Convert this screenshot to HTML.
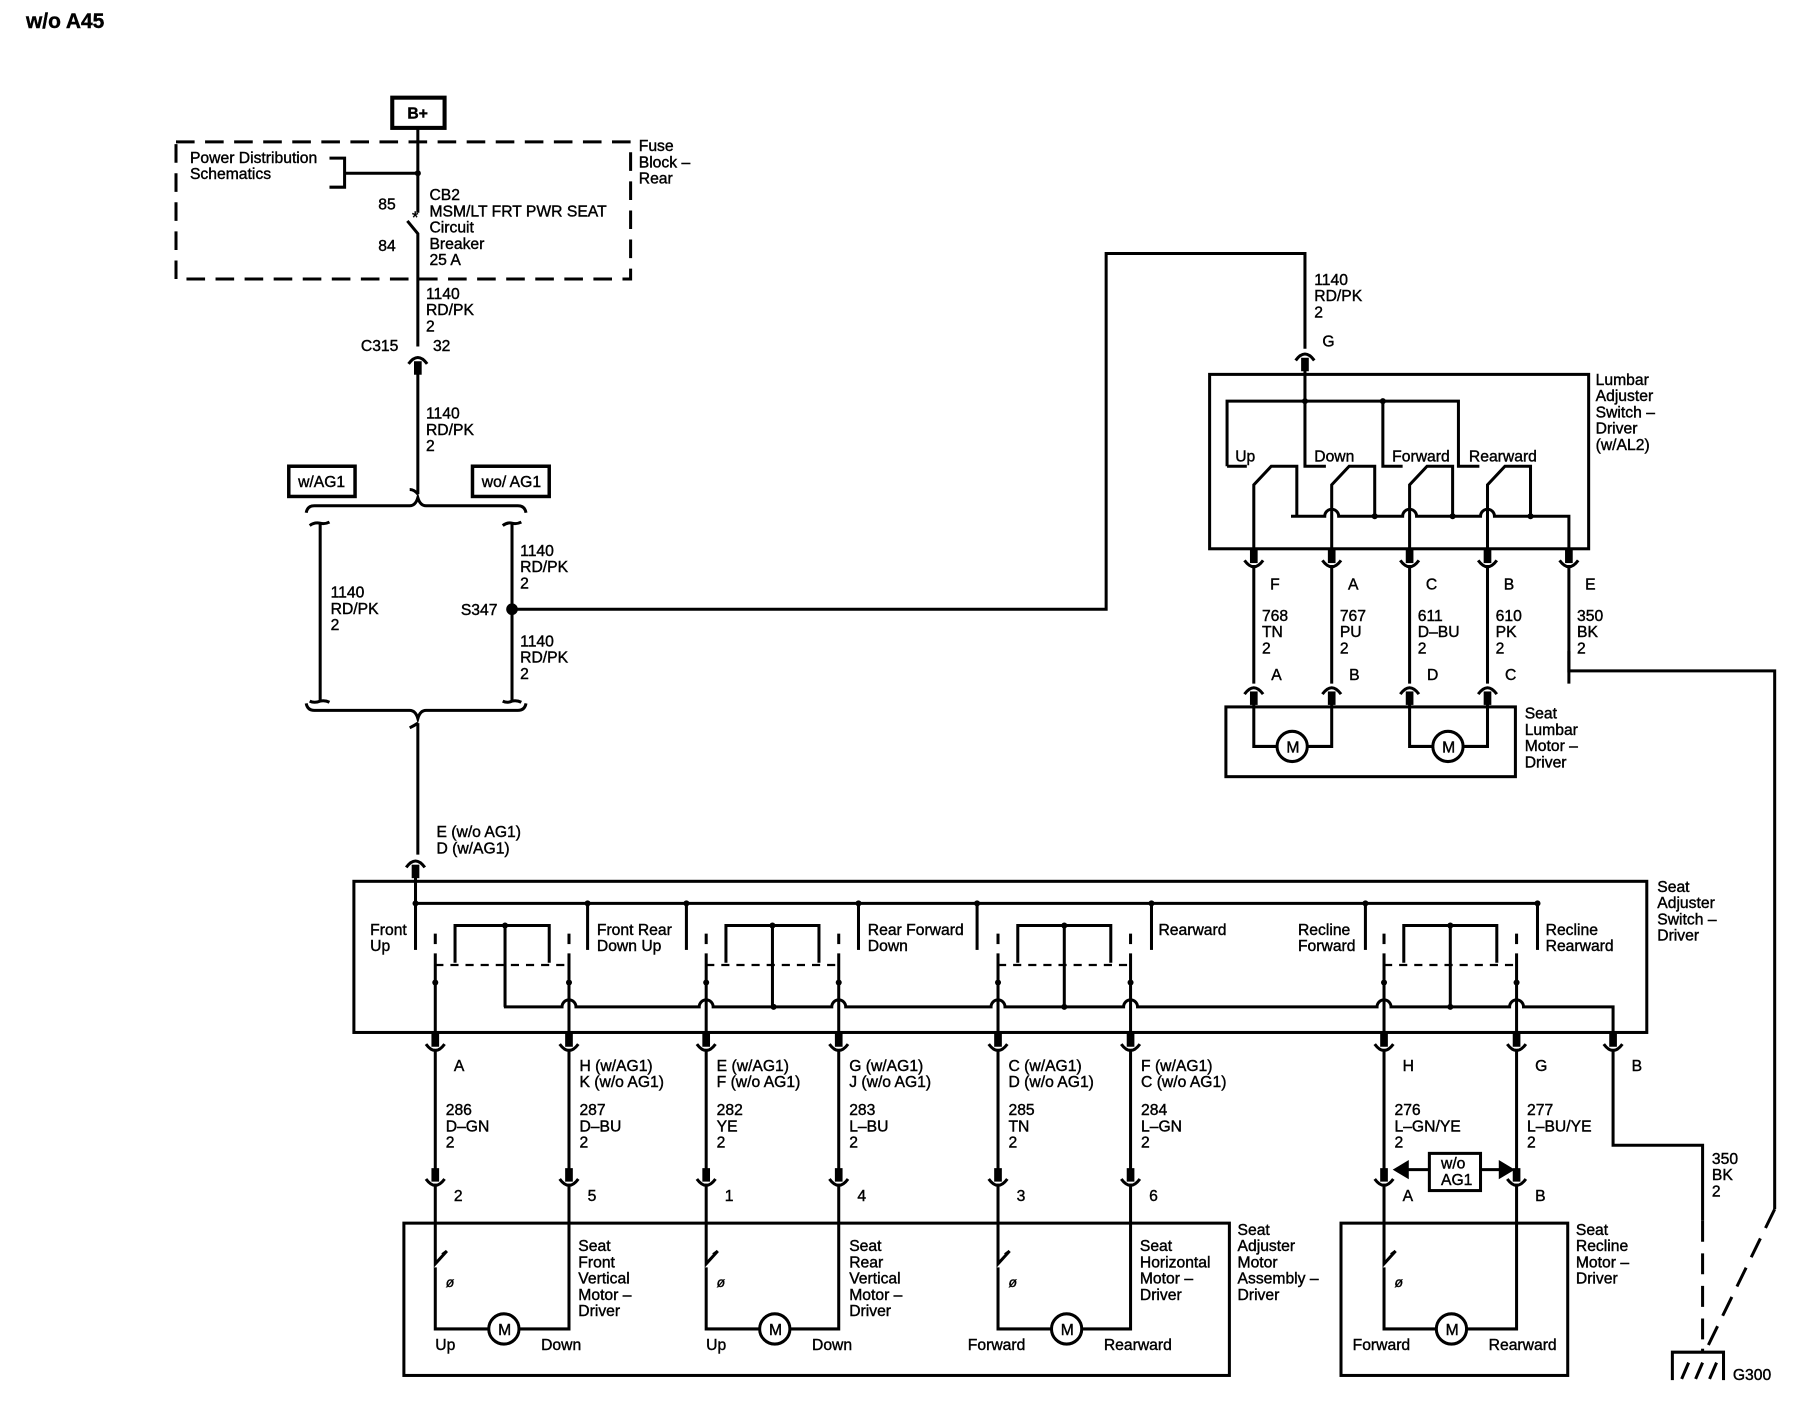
<!DOCTYPE html>
<html><head><meta charset="utf-8"><style>
html,body{margin:0;padding:0;background:#fff}
svg{display:block}
text{font-family:"Liberation Sans",Arial,sans-serif;font-size:13.5px;fill:#000;stroke:#000;stroke-width:0.35}
</style></head><body>
<svg id="s" width="1810" height="1408" viewBox="0 0 1556 1211" xmlns="http://www.w3.org/2000/svg">
<g id="g" fill="none" stroke="#000" stroke-width="2.6" stroke-linejoin="miter"></g>
<g id="t"></g>
</svg>
<script>
const g=document.getElementById('g'),T=document.getElementById('t');
const NS='http://www.w3.org/2000/svg';
function el(tag,a,par){const e=document.createElementNS(NS,tag);for(const k in a)e.setAttribute(k,a[k]);(par||g).appendChild(e);return e;}
function P(d,extra){return el('path',Object.assign({d:d},extra||{}));}
function L(x1,y1,x2,y2,w){return el('line',{x1,y1,x2,y2,'stroke-width':w||2.6});}
function R(x,y,w,h,sw,dash){const a={x,y,width:w,height:h,'stroke-width':sw||2.6};if(dash)a['stroke-dasharray']=dash;return el('rect',a);}
function D(x,y,r){el('circle',{cx:x,cy:y,r:r||2.6,fill:'#000',stroke:'none'});}
function tx(x,y,s,opt){const lines=s.split('|');lines.forEach((l,i)=>{const e=el('text',Object.assign({x:x,y:y+i*14},opt||{}),T);e.textContent=l;});}
function cup(x,y){R(x-2,y-12,4,9,0).setAttribute('fill','#000');P(`M${x-8},${y-4} Q${x},${y+7} ${x+8},${y-4}`);}
function cap(x,y){P(`M${x-8},${y+4} Q${x},${y-7} ${x+8},${y+4}`);R(x-2,y+3,4,9,0).setAttribute('fill','#000');}
function M(x,y){el('circle',{cx:x,cy:y,r:13,fill:'#fff'});tx(x-5,y+5,'M');}

tx(22,24,'w/o A45',{style:'font-size:18px;font-weight:bold'});
R(337,84,45,26,3.5);tx(350,102,'B+',{style:'font-weight:bold'});
L(359,110,359,183);
R(151,122,391,118,2.6,'16,9');
tx(163,140,'Power Distribution|Schematics');
P('M283,136 H296 V161 H283');L(296,149,359,149);D(359,149);
tx(549,130,'Fuse|Block –|Rear');
tx(354,192,'*',{style:'font-size:14px'});
P('M350,190 L359,201 V298');
tx(325,180,'85');tx(325,216,'84');
tx(369,172,'CB2|MSM/LT FRT PWR SEAT|Circuit|Breaker|25 A');
tx(366,257,'1140|RD/PK|2');
tx(310,302,'C315');tx(372,302,'32');
cap(359,309);
L(359,320,359,425);
tx(366,360,'1140|RD/PK|2');
R(248,401,57,26,3);tx(256,419,'w/AG1');
R(406,401,66,26,3);tx(414,419,'wo/ AG1');
P('M263,441 Q264,435 270,435 H352 Q357,435 359,428 Q361,435 366,435 H445 Q451,435 452,441');
P('M352,421 Q356,421 359,425');
L(275,450,275,603);L(440,450,440,603);
P('M266,452 Q270,449 275,450 Q279,451 283,449');P('M432,452 Q436,449 440,450 Q444,451 448,449');
P('M266,603 Q270,605 275,603 Q279,602 283,604');P('M432,603 Q436,605 440,603 Q444,602 448,604');
P('M263,605 Q264,611 270,611 H352 Q357,611 359,618 Q361,611 366,611 H445 Q451,611 452,605');
P('M352,626 Q356,624 359,622');
L(359,622,359,735);
tx(284,514,'1140|RD/PK|2');tx(447,478,'1140|RD/PK|2');tx(447,556,'1140|RD/PK|2');
D(440,524,5);tx(396,529,'S347');
P('M440,524 H951 V218 H1122 V300');
tx(1130,245,'1140|RD/PK|2');
cap(1122,306);tx(1137,298,'G');
R(1040,322,326,150);
L(1122,318,1122,345);
P('M1055,401 V345 H1254 V401 H1272');
P('M1055,401 H1072');P('M1122,345 V401 H1140');P('M1189,345 V401 H1206');
D(1122,345);D(1189,345);
tx(1062,397,'Up');tx(1130,397,'Down');tx(1197,397,'Forward');tx(1263,397,'Rearward');
tx(1372,331,'Lumbar|Adjuster|Switch –|Driver|(w/AL2)');
[1078,1145,1212,1279].forEach(p=>{P(`M${p},472 V417 L${p+15},401 H${p+37} V444`);});
let bus='M1110,444';
[1145,1212,1279].forEach(p=>{bus+=` H${p-6} A6,6 0 0 1 ${p+6},444`;});
bus+=' H1349 V472';P(bus);
D(1182,444);D(1249,444);D(1316,444);
const lp=[[1078,'F','768|TN|2','A'],[1145,'A','767|PU|2','B'],[1212,'C','611|D–BU|2','D'],[1279,'B','610|PK|2','C'],[1349,'E','350|BK|2','']];
lp.forEach(([x,a,w,b])=>{cup(x,486);L(x,486,x,588);tx(x+14,507,a);tx(x+7,534,w);if(b){cap(x,593);tx(x+15,585,b);}});
R(1054,608,249,60);
P('M1078,604 V642 H1098');P('M1124,642 H1145 V604');M(1111,642);
P('M1212,604 V642 H1232');P('M1258,642 H1279 V604');M(1245,642);
tx(1311,618,'Seat|Lumbar|Motor –|Driver');
P('M1349,560 V577 H1526 V1040');
L(1526,1040,1465,1165,2.6).setAttribute('stroke-dasharray','18,10');
tx(375,720,'E (w/o AG1)|D (w/AG1)');
cap(357,742);
R(304,758,1112,130);
L(357,752,357,777);
P('M357,777 H1322');
[357,505,590,738,840,990,1174,1322].forEach(x=>{L(x,777,x,817);D(x,777);});
tx(318,804,'Front|Up');tx(513,804,'Front  Rear|Down  Up');tx(746,804,'Rear  Forward|Down');
tx(996,804,'Rearward');tx(1116,804,'Recline|Forward');tx(1329,804,'Recline|Rearward');
tx(1425,767,'Seat|Adjuster|Switch –|Driver');
const grp=[[374,489],[607,721],[858,972],[1190,1304]];
grp.forEach(([a,b])=>{const m=Math.round((a+b)/2)-(a==374?-2:0);
 L(a,803,a,812);L(b,803,b,812);L(a,820,a,888);L(b,820,b,888);
 el('line',{x1:a,y1:830,x2:b,y2:830,'stroke-dasharray':'7,6','stroke-width':2});
 D(a,845);D(b,845);
 P(`M${a+17},828 V796 H${b-17} V828`);L(m,796,m,866);D(m,796);
});
let sb='M433,866';
const pins=[489,607,721,858,972,1190,1304];
pins.forEach(p=>{sb+=` H${p-6} A6,6 0 0 1 ${p+6},866`;});
sb+=' H1387 V888';P(sb);
D(665,866);D(915,866);D(1247,866);
const sp=[[374,'A','286|D–GN|2','2'],[489,'H (w/AG1)|K (w/o AG1)','287|D–BU|2','5'],[607,'E (w/AG1)|F (w/o AG1)','282|YE|2','1'],[721,'G (w/AG1)|J (w/o AG1)','283|L–BU|2','4'],[858,'C (w/AG1)|D (w/o AG1)','285|TN|2','3'],[972,'F (w/AG1)|C (w/o AG1)','284|L–GN|2','6'],[1190,'H','276|L–GN/YE|2','A'],[1304,'G','277|L–BU/YE|2','B']];
sp.forEach(([x,a,w,b])=>{cup(x,902);L(x,902,x,1010);tx(x+(a.length>2?9:16),921,a);tx(x+9,959,w);cup(x,1018);L(x,1018,x,1052);tx(x+16,1033,b);});
cup(1387,902);tx(1403,921,'B');
P('M1387,902 V985 H1464 V1050');
L(1464,1050,1464,1160).setAttribute('stroke-dasharray','18,10');
tx(1472,1001,'350|BK|2');
P('M1438,1187 V1163 H1482 V1187');L(1464,1160,1464,1163);
P('M1446,1186 L1452,1172 M1458,1186 L1464,1172 M1470,1186 L1476,1172');
tx(1490,1187,'G300');
R(347,1052,710,131);R(1153,1052,195,131);
[[374,489,433],[607,721,666],[858,972,917],[1190,1304,1248]].forEach(([a,b,m])=>{
 P(`M${a},1052 V1087 L${a+10},1076 M${a+6},1079 L${a+10},1076`);
 P(`M${a},1090 V1143 H${m-13}`);P(`M${m+13},1143 H${b} V1052`);M(m,1143);
 tx(a+9,1107,'ø',{style:'font-size:12px;font-style:italic'});
});
tx(374,1161,'Up');tx(465,1161,'Down');tx(607,1161,'Up');tx(698,1161,'Down');
tx(832,1161,'Forward');tx(949,1161,'Rearward');tx(1163,1161,'Forward');tx(1280,1161,'Rearward');
tx(497,1076,'Seat|Front|Vertical|Motor –|Driver');
tx(730,1076,'Seat|Rear|Vertical|Motor –|Driver');
tx(980,1076,'Seat|Horizontal|Motor –|Driver');
tx(1064,1062,'Seat|Adjuster|Motor|Assembly –|Driver');
tx(1355,1062,'Seat|Recline|Motor –|Driver');
L(1208,1006,1229,1006);L(1273,1006,1292,1006);
P('M1200,1006 L1210,1000 L1210,1012 Z',{fill:'#000'});P('M1300,1006 L1290,1000 L1290,1012 Z',{fill:'#000'});
R(1229,992,44,32,2.6);tx(1239,1005,'w/o|AG1');
</script>
</body></html>
